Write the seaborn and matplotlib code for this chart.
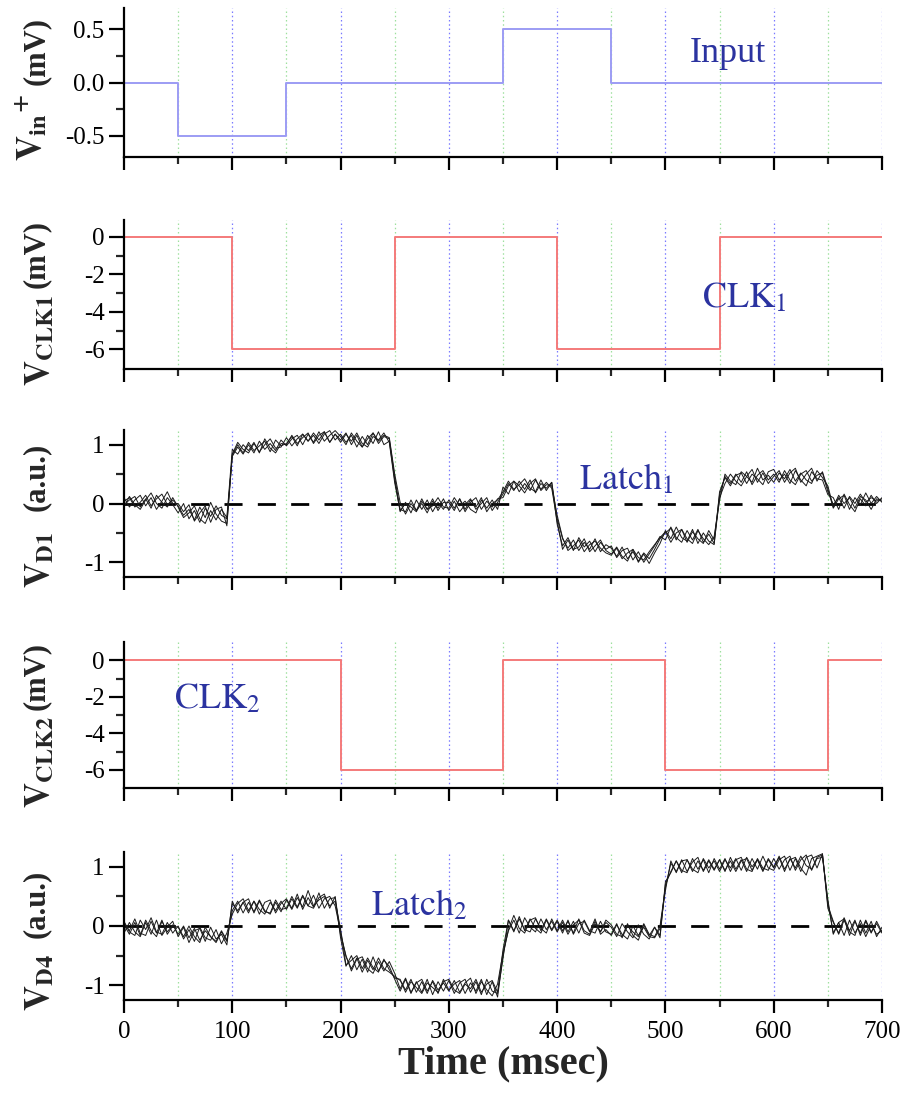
import numpy as np
import pandas as pd
import seaborn as sns
import matplotlib.pyplot as plt
import matplotlib.ticker as mticker

sns.set_style("ticks")
plt.rcParams["font.family"] = ["Liberation Serif", "DejaVu Serif"]
plt.rcParams["mathtext.fontset"] = "stix"
plt.rcParams["axes.unicode_minus"] = False

# ---------------- data ----------------
# square-wave stimuli (change points, step-post)
input_t = [0, 50, 150, 350, 450, 700]
input_v = [0.0, -0.5, 0.0, 0.5, 0.0, 0.0]

clk1_t = [0, 100, 250, 400, 550, 700]
clk1_v = [0, -6, 0, -6, 0, 0]

clk2_t = [0, 200, 350, 500, 650, 700]
clk2_v = [0, -6, 0, -6, 0, 0]

# recorded latch outputs, 4 repeated trials, sampled every 5 ms from 0 to 700 ms
sample_t = np.arange(0, 701, 5)

d1_trial1 = [
    0.04, 0.10, -0.06, 0.02, 0.14, -0.04, 0.08, 0.16, -0.02, 0.06,
    -0.04, -0.20, -0.10, -0.28, -0.06, -0.24, 0.02, -0.18, -0.30, -0.34,
    0.82, 1.00, 0.86, 1.04, 0.90, 0.98, 1.06, 0.88, 1.08, 0.98,
    1.02, 1.14, 0.98, 1.18, 1.06, 1.20, 1.08, 1.22, 1.04, 1.18,
    1.08, 1.20, 1.00, 1.16, 0.96, 1.10, 1.20, 1.02, 1.14, 1.10,
    0.45, -0.10, -0.14, 0.06, -0.12, 0.00, -0.16, 0.04, -0.08, 0.08,
    -0.12, 0.04, -0.14, -0.02, 0.08, -0.10, 0.00, 0.10, -0.12, 0.02,
    0.16, 0.34, 0.22, 0.38, 0.24, 0.40, 0.18, 0.34, 0.26, 0.36,
    -0.25, -0.60, -0.76, -0.62, -0.80, -0.66, -0.78, -0.60, -0.82, -0.70,
    -0.76, -0.90, -0.74, -0.94, -0.82, -0.98, -0.84, -0.94, -0.78, -0.60,
    -0.50, -0.42, -0.62, -0.44, -0.66, -0.48, -0.60, -0.68, -0.46, -0.62,
    0.15, 0.46, 0.34, 0.50, 0.36, 0.54, 0.32, 0.48, 0.56, 0.40,
    0.50, 0.36, 0.56, 0.40, 0.32, 0.50, 0.56, 0.38, 0.48, 0.52,
    0.20, -0.02, 0.10, -0.08, 0.12, 0.00, 0.16, 0.02, 0.10, 0.04,
    0.08,
]
d1_trial2 = [
    -0.06, 0.12, -0.02, -0.10, 0.06, 0.18, 0.00, -0.08, 0.10, -0.02,
    -0.16, 0.00, -0.26, -0.12, -0.32, -0.08, -0.22, -0.04, -0.20, -0.26,
    0.80, 0.96, 0.84, 1.00, 0.86, 1.06, 0.92, 1.02, 0.90, 1.08,
    0.98, 1.10, 1.16, 1.00, 1.18, 1.04, 1.22, 1.06, 1.16, 1.24,
    1.14, 1.00, 1.20, 1.06, 0.96, 1.16, 1.02, 1.22, 1.00, 1.06,
    0.40, -0.14, 0.02, -0.16, 0.06, -0.10, 0.06, -0.14, 0.02, -0.10,
    0.06, -0.08, 0.08, -0.14, 0.02, 0.10, -0.10, 0.04, -0.06, 0.08,
    0.10, 0.30, 0.38, 0.20, 0.34, 0.22, 0.40, 0.24, 0.36, 0.26,
    -0.30, -0.78, -0.62, -0.80, -0.58, -0.74, -0.64, -0.82, -0.66, -0.78,
    -0.72, -0.92, -0.80, -0.76, -0.96, -0.82, -1.00, -0.86, -0.72, -0.56,
    -0.62, -0.40, -0.58, -0.66, -0.46, -0.62, -0.44, -0.66, -0.52, -0.68,
    0.10, 0.34, 0.50, 0.38, 0.30, 0.46, 0.58, 0.36, 0.52, 0.34,
    0.46, 0.56, 0.36, 0.52, 0.60, 0.36, 0.50, 0.60, 0.38, 0.54,
    0.25, -0.08, 0.08, 0.14, -0.10, 0.10, -0.02, 0.18, 0.00, 0.12,
    0.02,
]
d1_trial3 = [
    0.10, -0.06, 0.06, 0.14, -0.04, 0.10, -0.10, 0.04, 0.20, 0.00,
    0.00, -0.14, -0.02, -0.30, -0.16, -0.04, -0.32, -0.10, -0.06, -0.38,
    0.84, 1.04, 0.92, 0.86, 1.02, 0.88, 1.00, 1.10, 0.94, 0.96,
    1.12, 0.98, 1.10, 1.18, 1.06, 1.16, 1.02, 1.18, 1.24, 1.08,
    1.18, 1.04, 1.16, 0.96, 1.14, 1.00, 1.20, 1.06, 1.16, 1.12,
    0.50, 0.02, -0.18, 0.00, -0.12, 0.08, -0.10, -0.04, 0.10, -0.06,
    -0.08, 0.10, -0.04, 0.04, -0.10, -0.16, 0.06, -0.08, 0.06, -0.10,
    0.28, 0.16, 0.38, 0.30, 0.18, 0.34, 0.42, 0.22, 0.32, 0.30,
    -0.20, -0.58, -0.80, -0.72, -0.62, -0.82, -0.70, -0.64, -0.76, -0.84,
    -0.88, -0.76, -0.94, -0.84, -0.78, -1.00, -0.86, -1.02, -0.84, -0.68,
    -0.46, -0.60, -0.40, -0.58, -0.64, -0.44, -0.68, -0.50, -0.64, -0.70,
    0.20, 0.44, 0.30, 0.48, 0.52, 0.34, 0.50, 0.42, 0.32, 0.54,
    0.58, 0.40, 0.50, 0.34, 0.56, 0.40, 0.30, 0.54, 0.42, 0.40,
    0.15, 0.10, -0.10, 0.16, -0.02, -0.14, 0.08, -0.04, 0.14, 0.00,
    0.10,
]
d1_trial4 = [
    -0.02, 0.06, 0.12, -0.06, 0.08, -0.08, 0.14, 0.02, -0.06, 0.10,
    -0.06, -0.24, -0.16, -0.04, -0.26, -0.34, -0.12, -0.28, -0.10, -0.24,
    0.92, 0.84, 1.00, 0.90, 1.04, 0.86, 1.10, 0.94, 0.86, 1.02,
    1.00, 1.16, 1.02, 1.12, 1.20, 1.02, 1.16, 1.22, 1.04, 1.18,
    1.04, 1.18, 1.06, 1.20, 1.02, 0.96, 1.14, 1.08, 1.20, 1.04,
    0.35, -0.12, 0.00, -0.06, -0.14, 0.04, -0.10, 0.08, -0.12, 0.02,
    0.02, -0.12, 0.08, -0.10, 0.06, -0.06, 0.10, -0.14, 0.00, 0.06,
    0.20, 0.38, 0.24, 0.32, 0.42, 0.26, 0.20, 0.40, 0.22, 0.36,
    -0.35, -0.72, -0.58, -0.78, -0.74, -0.60, -0.82, -0.72, -0.62, -0.80,
    -0.86, -0.74, -0.90, -0.98, -0.78, -0.92, -0.96, -0.82, -0.70, -0.58,
    -0.48, -0.66, -0.50, -0.44, -0.60, -0.68, -0.46, -0.60, -0.70, -0.56,
    0.05, 0.50, 0.38, 0.32, 0.54, 0.46, 0.36, 0.60, 0.40, 0.48,
    0.36, 0.52, 0.42, 0.58, 0.38, 0.52, 0.40, 0.34, 0.56, 0.44,
    0.30, -0.06, 0.14, 0.00, 0.10, -0.08, 0.12, 0.06, -0.10, 0.08,
    0.04,
]

d4_trial1 = [
    0.02, -0.14, 0.06, -0.16, 0.10, -0.08, -0.18, 0.08, -0.10, 0.02,
    -0.14, 0.00, -0.20, -0.04, -0.24, -0.08, -0.18, -0.28, -0.10, -0.26,
    0.38, 0.26, 0.40, 0.22, 0.42, 0.28, 0.20, 0.40, 0.26, 0.42,
    0.28, 0.46, 0.30, 0.50, 0.34, 0.52, 0.30, 0.46, 0.50, 0.34,
    -0.10, -0.52, -0.72, -0.54, -0.78, -0.58, -0.74, -0.54, -0.72, -0.78,
    -0.85, -0.92, -1.08, -0.90, -1.12, -0.94, -1.14, -0.92, -1.08, -0.96,
    -1.10, -0.92, -1.12, -0.96, -0.88, -1.14, -0.94, -1.08, -1.18, -0.98,
    -0.45, -0.08, 0.10, -0.12, 0.14, -0.02, -0.10, 0.12, -0.06, 0.08,
    -0.10, 0.06, -0.14, 0.02, 0.10, -0.12, -0.16, 0.04, -0.10, 0.06,
    -0.02, -0.18, 0.04, -0.10, -0.20, 0.02, -0.14, -0.22, -0.02, -0.16,
    0.70, 0.92, 1.10, 0.90, 1.12, 0.96, 0.90, 1.14, 0.98, 1.10,
    0.92, 1.12, 0.98, 1.14, 0.94, 1.16, 1.00, 1.12, 0.94, 1.14,
    1.00, 1.16, 0.92, 1.14, 0.98, 1.18, 1.02, 0.96, 1.16, 1.20,
    0.40, -0.12, 0.06, -0.16, 0.10, -0.12, 0.04, -0.18, 0.02, -0.14,
    -0.08,
]
d4_trial2 = [
    0.08, -0.10, -0.16, 0.10, -0.06, 0.14, -0.10, -0.14, 0.06, -0.12,
    0.00, -0.22, -0.06, -0.26, -0.02, -0.20, -0.24, -0.06, -0.30, -0.12,
    0.20, 0.38, 0.46, 0.26, 0.42, 0.20, 0.40, 0.44, 0.22, 0.38,
    0.46, 0.30, 0.54, 0.28, 0.48, 0.32, 0.56, 0.30, 0.46, 0.48,
    -0.20, -0.68, -0.50, -0.74, -0.56, -0.78, -0.52, -0.76, -0.58, -0.68,
    -0.90, -1.10, -0.90, -1.14, -0.94, -1.12, -0.90, -1.16, -0.94, -1.10,
    -0.92, -1.14, -0.96, -0.90, -1.12, -0.94, -1.16, -0.90, -1.10, -1.14,
    -0.55, 0.10, -0.10, 0.16, -0.08, 0.12, -0.04, -0.12, 0.10, -0.08,
    0.08, -0.12, 0.10, -0.14, 0.04, 0.08, -0.10, 0.12, -0.14, -0.06,
    -0.16, 0.02, -0.14, -0.22, 0.00, -0.16, -0.02, -0.18, -0.20, -0.04,
    0.60, 1.10, 0.90, 1.12, 0.92, 1.08, 1.16, 0.92, 1.10, 0.94,
    1.12, 0.92, 1.16, 0.96, 1.12, 0.92, 1.14, 0.96, 1.18, 0.98,
    0.94, 1.12, 1.18, 0.94, 1.14, 0.92, 1.16, 1.20, 0.98, 1.22,
    0.35, 0.08, -0.14, 0.10, -0.10, -0.16, 0.10, -0.12, 0.08, -0.18,
    -0.02,
]
d4_trial3 = [
    -0.12, 0.06, -0.10, -0.18, 0.06, -0.14, 0.10, -0.16, -0.02, 0.08,
    -0.18, -0.02, -0.28, -0.08, -0.04, -0.26, -0.02, -0.22, -0.14, -0.32,
    0.42, 0.22, 0.40, 0.46, 0.22, 0.42, 0.24, 0.22, 0.44, 0.28,
    0.30, 0.50, 0.32, 0.52, 0.34, 0.30, 0.48, 0.54, 0.30, 0.50,
    -0.15, -0.50, -0.76, -0.56, -0.52, -0.72, -0.80, -0.60, -0.76, -0.60,
    -0.80, -1.06, -0.88, -1.12, -0.96, -0.90, -1.10, -0.94, -1.14, -0.90,
    -1.08, -0.98, -0.92, -1.14, -0.96, -1.10, -0.90, -1.16, -0.94, -1.20,
    -0.50, -0.06, 0.18, -0.04, -0.12, 0.10, 0.14, -0.08, 0.12, -0.06,
    0.10, -0.08, 0.08, -0.12, 0.12, -0.08, -0.14, 0.08, -0.10, 0.10,
    0.02, -0.14, -0.18, 0.04, -0.16, -0.24, 0.02, -0.16, -0.02, -0.20,
    0.75, 0.90, 1.10, 0.94, 0.90, 1.14, 0.96, 1.12, 0.90, 1.14,
    0.96, 1.14, 0.92, 1.12, 1.16, 0.96, 0.92, 1.14, 0.98, 0.94,
    1.14, 0.96, 1.12, 1.18, 0.94, 1.12, 1.20, 0.94, 1.14, 1.16,
    0.45, -0.14, 0.06, 0.12, -0.16, 0.08, -0.12, 0.10, -0.10, 0.04,
    -0.12,
]
d4_trial4 = [
    0.06, -0.08, 0.12, -0.12, -0.16, 0.08, -0.12, 0.10, -0.14, 0.00,
    -0.02, -0.18, 0.00, -0.18, -0.28, -0.02, -0.18, -0.26, -0.08, -0.24,
    0.26, 0.42, 0.22, 0.40, 0.24, 0.44, 0.26, 0.20, 0.40, 0.24,
    0.44, 0.28, 0.48, 0.32, 0.60, 0.34, 0.44, 0.50, 0.34, 0.42,
    -0.05, -0.66, -0.58, -0.50, -0.72, -0.54, -0.70, -0.78, -0.56, -0.74,
    -0.88, -0.90, -1.12, -0.94, -1.04, -1.14, -0.96, -1.04, -1.12, -0.94,
    -0.90, -1.08, -1.14, -0.98, -1.06, -0.90, -1.12, -0.98, -0.92, -1.12,
    -0.40, 0.10, -0.08, 0.12, -0.06, -0.10, 0.12, -0.04, -0.12, 0.12,
    -0.08, 0.10, -0.10, 0.08, -0.12, 0.10, -0.08, -0.12, 0.08, -0.10,
    -0.14, 0.04, -0.20, 0.00, -0.10, -0.18, 0.04, -0.14, -0.18, 0.00,
    0.65, 1.06, 0.92, 1.10, 1.12, 0.92, 1.10, 0.94, 1.12, 0.96,
    1.12, 0.94, 1.10, 0.92, 1.10, 1.14, 0.94, 1.12, 0.92, 1.12,
    0.98, 1.18, 0.96, 1.12, 1.16, 0.98, 0.86, 1.14, 1.18, 1.22,
    0.30, 0.06, -0.12, 0.14, -0.08, 0.10, -0.16, 0.08, -0.12, 0.08,
    -0.10,
]

x_major = [0, 100, 200, 300, 400, 500, 600, 700]
x_minor = [50, 150, 250, 350, 450, 550, 650]


def trials_frame(trials):
    return pd.DataFrame({
        "t": np.tile(sample_t, len(trials)),
        "v": np.concatenate([np.asarray(tr, dtype=float) for tr in trials]),
        "trial": np.repeat(np.arange(len(trials)), len(sample_t)),
    })


d1_df = trials_frame([d1_trial1, d1_trial2, d1_trial3, d1_trial4])
d4_df = trials_frame([d4_trial1, d4_trial2, d4_trial3, d4_trial4])

# ---------------- figure layout ----------------
W, H = 905, 1098
fig = plt.figure(figsize=(W / 100, H / 100), dpi=100)

LEFT, RIGHT = 124, 882
panel_rows = [(8, 157), (220, 369), (430, 577), (642, 788), (852, 1000)]
axes = []
for top, bottom in panel_rows:
    ax = fig.add_axes([LEFT / W, 1 - bottom / H, (RIGHT - LEFT) / W, (bottom - top) / H])
    axes.append(ax)

STEP_BLUE = "#9c9cf4"
STEP_RED = "#f47a7a"
NOTE_BLUE = "#2b33a0"
GRID_BLUE = "#7a7aff"
GRID_GREEN = "#9ee09e"

for ax in axes:
    for xv in x_major[1:]:
        ax.axvline(xv, color=GRID_BLUE, lw=0.9, ls=(0, (1.2, 2.2)), zorder=0)
    for xv in x_minor:
        ax.axvline(xv, color=GRID_GREEN, lw=0.9, ls=(0, (1.2, 2.2)), zorder=0)

# stimuli
sns.lineplot(x=input_t, y=input_v, drawstyle="steps-post", color=STEP_BLUE, lw=1.4, ax=axes[0])
sns.lineplot(x=clk1_t, y=clk1_v, drawstyle="steps-post", color=STEP_RED, lw=1.4, ax=axes[1])
sns.lineplot(x=clk2_t, y=clk2_v, drawstyle="steps-post", color=STEP_RED, lw=1.4, ax=axes[3])

# latch outputs
for ax, df in ((axes[2], d1_df), (axes[4], d4_df)):
    ax.axhline(0, color="black", lw=2.0, ls=(0, (6.5, 5.5)), zorder=1)
    sns.lineplot(data=df, x="t", y="v", units="trial", estimator=None,
                 color="#1a1a1a", lw=0.7, ax=ax, legend=False, zorder=2)

# axes limits and ticks
ylims = [(-0.7, 0.7), (-7.05, 0.9), (-1.25, 1.25), (-7.0, 1.0), (-1.25, 1.25)]
y_majors = [[-0.5, 0.0, 0.5], [-6, -4, -2, 0], [-1, 0, 1], [-6, -4, -2, 0], [-1, 0, 1]]
y_minors = [[-0.25, 0.25], [-5, -3, -1], [-0.5, 0.5], [-5, -3, -1], [-0.5, 0.5]]
y_fmts = ["%.1f", "%d", "%d", "%d", "%d"]

for i, ax in enumerate(axes):
    sns.despine(ax=ax)
    ax.set_xlim(0, 700)
    ax.set_ylim(*ylims[i])
    ax.xaxis.set_major_locator(mticker.FixedLocator(x_major))
    ax.xaxis.set_minor_locator(mticker.FixedLocator(x_minor))
    ax.yaxis.set_major_locator(mticker.FixedLocator(y_majors[i]))
    ax.yaxis.set_minor_locator(mticker.FixedLocator(y_minors[i]))
    ax.yaxis.set_major_formatter(mticker.FormatStrFormatter(y_fmts[i]))
    for s in ("left", "bottom"):
        ax.spines[s].set_linewidth(1.6)
        ax.spines[s].set_color("black")
    ax.tick_params(axis="y", which="major", direction="out", length=11, width=1.6,
                   labelsize=18, pad=3, colors="black")
    ax.tick_params(axis="y", which="minor", direction="out", length=6, width=1.6)
    ax.tick_params(axis="x", which="major", direction="out", length=9, width=1.6,
                   labelsize=18, pad=6, colors="black")
    ax.tick_params(axis="x", which="minor", direction="out", length=5, width=1.6)
    ax.set_xlabel("")
    ax.set_ylabel("")
    if i < 4:
        ax.tick_params(axis="x", labelbottom=False)

axes[4].set_xlabel("Time (msec)", fontsize=29, fontweight="bold", labelpad=2)

# panel annotations
note_kw = dict(color=NOTE_BLUE, fontsize=26, ha="center", va="center")
axes[0].text(558, 0.27, "Input", **note_kw)
axes[1].text(573, -3.3, r"$\mathrm{CLK}_{1}$", **note_kw)
axes[2].text(464, 0.41, r"$\mathrm{Latch}_{1}$", **note_kw)
axes[3].text(86, -2.15, r"$\mathrm{CLK}_{2}$", **note_kw)
axes[4].text(273, 0.34, r"$\mathrm{Latch}_{2}$", **note_kw)


# y-axis titles: symbol part and unit part, stacked vertically
def px(x, y):
    return x / W, 1 - y / H


ylabel_parts = [
    (r"$\mathbf{V}_{\mathbf{in}}{}^{\mathbf{+}}$", "(mV)", 14, 161, 17),
    (r"$\mathbf{V}_{\mathbf{CLK1}}$", "(mV)", 24, 386, 220),
    (r"$\mathbf{V}_{\mathbf{D1}}$", "(a.u.)", 24, 588, 443),
    (r"$\mathbf{V}_{\mathbf{CLK2}}$", "(mV)", 24, 808, 642),
    (r"$\mathbf{V}_{\mathbf{D4}}$", "(a.u.)", 24, 1011, 870),
]
for sym, unit, xl, ybot, ytop in ylabel_parts:
    fig.text(*px(xl, ybot), sym, rotation=90, fontsize=25, ha="left", va="bottom")
    fig.text(*px(22, ytop), unit, rotation=90, fontsize=22, fontweight="bold",
             ha="left", va="top")

fig.savefig("out.png", dpi=100)
